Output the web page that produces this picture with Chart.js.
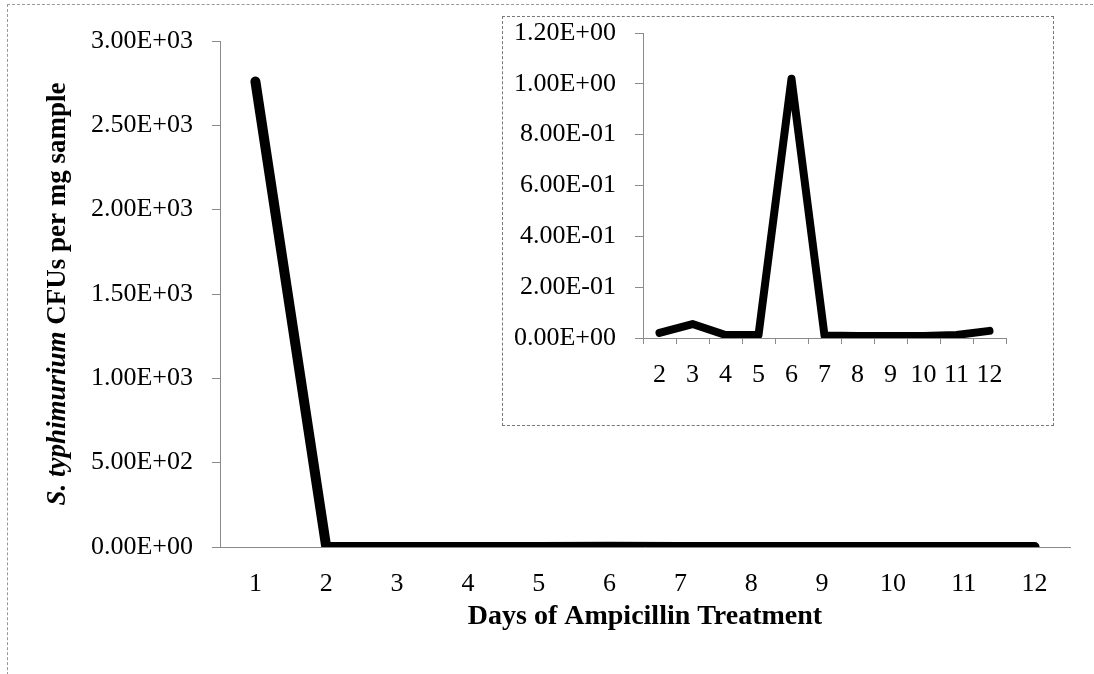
<!DOCTYPE html>
<html>
<head>
<meta charset="utf-8">
<script src="https://cdn.jsdelivr.net/npm/chart.js@4.4.0/dist/chart.umd.min.js"></script>
<style>
  body { margin: 0; background: #fff; }
  #wrap { position: relative; width: 1094px; height: 674px; overflow: hidden; }
  #frame { position: absolute; left: 7px; top: 4px; width: 1100px; height: 700px; border-left: 1px dashed #999; border-top: 1px dashed #999; }
  #main { position: absolute; left: 0; top: 0; }
  #insetBox { position: absolute; left: 502px; top: 16px; width: 550px; height: 408px; border: 1px dashed #777; background: #fff; }
  #inset { display: block; }
</style>
</head>
<body>
<div id="wrap">
  <div id="frame"></div>
  <canvas id="main" width="1094" height="674"></canvas>
  <div id="insetBox"><canvas id="inset" width="550" height="408"></canvas></div>
</div>
<script>
// days of treatment and CFU counts
const days = ['1', '2', '3', '4', '5', '6', '7', '8', '9', '10', '11', '12'];
const cfuValues = [2760, 0.02, 0.055, 0.012, 0.012, 1.02, 0.01, 0.008, 0.008, 0.008, 0.012, 0.028];

// inset zooms in on days 2..12
const insetDays = days.slice(1);
const insetValues = cfuValues.slice(1);

const xTitle = 'Days of Ampicillin Treatment';
const yTitleItalic = 'S. typhimurium';
const yTitleRest = ' CFUs per mg sample';

const serif = '"Liberation Serif", "Times New Roman", serif';
const axisGrey = '#8a8a8a';

function sciFmt(v) {
  const parts = Number(v).toExponential(2).split('e');
  const exp = parseInt(parts[1], 10);
  const sign = exp < 0 ? '-' : '+';
  return parts[0] + 'E' + sign + String(Math.abs(exp)).padStart(2, '0');
}

// no extra room for half tick labels, keep chart area where padding says
function noScalePad(s) {
  s.paddingTop = 0;
  s.paddingBottom = 0;
  s.paddingLeft = 0;
  s.paddingRight = 0;
}

const yTitlePlugin = {
  id: 'yTitle',
  afterDraw(chart) {
    const ctx = chart.ctx;
    const area = chart.chartArea;
    const f1 = 'italic bold 27px ' + serif;
    const f2 = 'bold 27px ' + serif;
    ctx.save();
    ctx.translate(58, (area.top + area.bottom) / 2);
    ctx.rotate(-Math.PI / 2);
    ctx.fillStyle = '#000';
    ctx.textBaseline = 'middle';
    ctx.font = f1;
    const w1 = ctx.measureText(yTitleItalic).width;
    ctx.font = f2;
    const w2 = ctx.measureText(yTitleRest).width;
    const x0 = -(w1 + w2) / 2;
    ctx.font = f1;
    ctx.fillText(yTitleItalic, x0, 0);
    ctx.font = f2;
    ctx.fillText(yTitleRest, x0 + w1, 0);
    ctx.restore();
  }
};

Chart.defaults.font.family = serif;
Chart.defaults.color = '#000';

new Chart(document.getElementById('main'), {
  type: 'line',
  data: {
    labels: days,
    datasets: [{
      data: cfuValues,
      borderColor: '#000',
      borderWidth: 10,
      borderCapStyle: 'round',
      borderJoinStyle: 'round',
      pointRadius: 0,
      tension: 0
    }]
  },
  options: {
    responsive: false,
    animation: false,
    layout: { padding: { left: 0, top: 41, right: 24, bottom: 0 } },
    plugins: { legend: { display: false }, tooltip: { enabled: false } },
    scales: {
      x: {
        offset: true,
        grid: { display: false },
        border: { color: axisGrey, width: 1 },
        ticks: { font: { size: 26 }, padding: 14, maxRotation: 0 },
        title: { display: true, text: xTitle, font: { size: 28, weight: 'bold' }, padding: { top: 0, bottom: 40 } },
        afterFit(s) { s.height = 127; noScalePad(s); }
      },
      y: {
        min: 0,
        max: 3000,
        ticks: { stepSize: 500, font: { size: 26 }, padding: 19, callback: v => sciFmt(v) },
        grid: { drawOnChartArea: false, drawTicks: true, tickLength: 8, color: axisGrey },
        border: { color: axisGrey, width: 1 },
        afterFit(s) { s.width = 220; noScalePad(s); }
      }
    }
  },
  plugins: [yTitlePlugin]
});

new Chart(document.getElementById('inset'), {
  type: 'line',
  data: {
    labels: insetDays,
    datasets: [{
      data: insetValues,
      borderColor: '#000',
      borderWidth: 8,
      borderCapStyle: 'round',
      borderJoinStyle: 'round',
      pointRadius: 0,
      tension: 0
    }]
  },
  options: {
    responsive: false,
    animation: false,
    layout: { padding: { left: 0, top: 16, right: 47, bottom: 0 } },
    plugins: { legend: { display: false }, tooltip: { enabled: false } },
    scales: {
      x: {
        offset: true,
        grid: { offset: true, drawOnChartArea: false, drawTicks: true, tickLength: 6, color: axisGrey },
        border: { color: axisGrey, width: 1 },
        ticks: { font: { size: 26 }, padding: 16, maxRotation: 0, autoSkip: false },
        afterFit(s) { s.height = 87; noScalePad(s); }
      },
      y: {
        min: 0,
        max: 1.2,
        ticks: { stepSize: 0.2, font: { size: 26 }, padding: 19, callback: v => sciFmt(v) },
        grid: { drawOnChartArea: false, drawTicks: true, tickLength: 8, color: axisGrey },
        border: { color: axisGrey, width: 1 },
        afterFit(s) { s.width = 140; noScalePad(s); }
      }
    }
  }
});
</script>
</body>
</html>
